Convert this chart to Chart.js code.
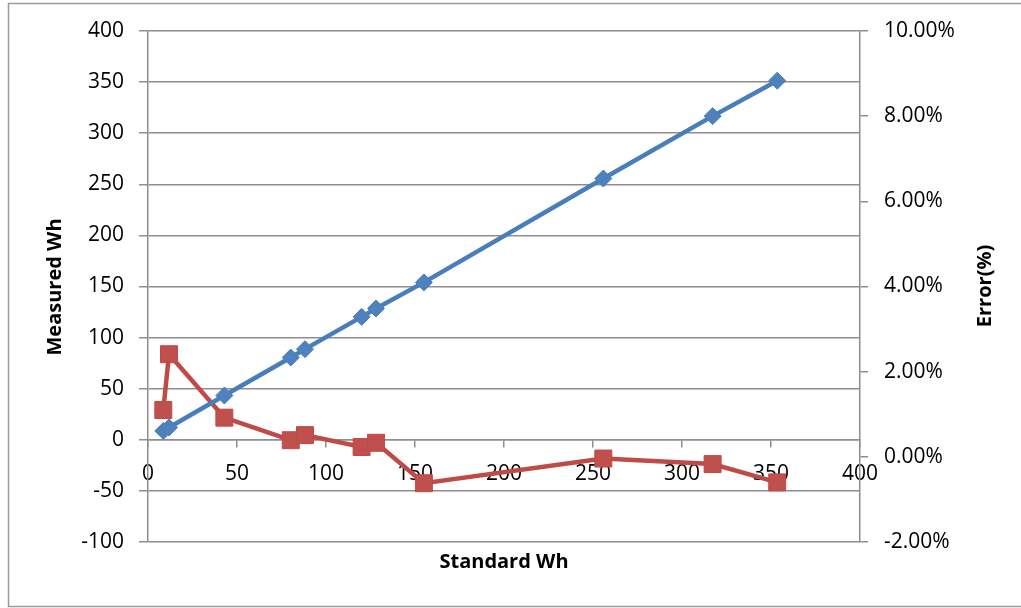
<!DOCTYPE html>
<html>
<head>
<meta charset="utf-8">
<title>Measured vs Standard Wh</title>
<script src="https://cdn.jsdelivr.net/npm/chart.js@4.4.2/dist/chart.umd.min.js"></script>
<style>
  html, body { margin: 0; padding: 0; background: #fff; }
  #wrap { position: relative; width: 1021px; height: 608px; }
</style>
</head>
<body>
<div id="wrap"><canvas id="chart" width="1021" height="608"></canvas></div>
<script>
// ---------- DATA ----------
const standardWh = [8.6, 11.8, 42.9, 80.2, 88.2, 120.0, 128.1, 155.0, 255.8, 317.2, 353.5];
const measuredWh = [8.7, 12.1, 43.3, 80.5, 88.7, 120.3, 128.5, 154.0, 255.7, 316.7, 351.4];
const errorPct   = [1.10, 2.41, 0.92, 0.39, 0.51, 0.23, 0.33, -0.62, -0.04, -0.17, -0.60];

const xTicks  = [0, 50, 100, 150, 200, 250, 300, 350, 400];
const yTicks  = [-100, -50, 0, 50, 100, 150, 200, 250, 300, 350, 400];
const y2Ticks = [-2, 0, 2, 4, 6, 8, 10];

const xTitle  = "Standard Wh";
const yTitle  = "Measured Wh";
const y2Title = "Error(%)";

// ---------- STYLE ----------
const GRID = "#8e8e8e";
const FONT = "'Open Sans', 'Liberation Sans', sans-serif";
const tickFont = { family: FONT, size: 21 };

Chart.defaults.font.family = FONT;
Chart.defaults.color = "#000";

// axis titles + outer frame, drawn by hand so the right title reads bottom-to-top
const titlesPlugin = {
  id: "titles",
  beforeDraw(chart) {
    const ctx = chart.ctx;
    ctx.save();
    ctx.strokeStyle = "#9a9a9a";
    ctx.lineWidth = 1.5;
    ctx.strokeRect(8.5, 3.5, 1040, 603);
    ctx.restore();
  },
  afterDraw(chart) {
    const ctx = chart.ctx;
    ctx.save();
    ctx.fillStyle = "#000";
    ctx.font = "bold 20px " + FONT;
    ctx.textAlign = "center";
    ctx.textBaseline = "middle";

    ctx.fillText(xTitle, 504, 562);

    ctx.translate(55, 287);
    ctx.rotate(-Math.PI / 2);
    ctx.fillText(yTitle, 0, 0);
    ctx.restore();

    ctx.save();
    ctx.fillStyle = "#000";
    ctx.font = "bold 20px " + FONT;
    ctx.textAlign = "center";
    ctx.textBaseline = "middle";
    ctx.translate(985, 286);
    ctx.rotate(-Math.PI / 2);
    ctx.fillText(y2Title, 0, 0);
    ctx.restore();
  }
};

const measuredPts = standardWh.map((x, i) => ({ x, y: measuredWh[i] }));
const errorPts    = standardWh.map((x, i) => ({ x, y: errorPct[i] }));

new Chart(document.getElementById("chart"), {
  type: "line",
  data: {
    datasets: [
      {
        label: yTitle,
        data: measuredPts,
        yAxisID: "y",
        borderColor: "#4A7EBB",
        backgroundColor: "#4F81BD",
        borderWidth: 4.5,
        tension: 0,
        pointStyle: "rectRot",
        pointRadius: 8.5,
        pointBorderWidth: 1,
        pointBorderColor: "#4A7EBB",
        pointBackgroundColor: "#4F81BD"
      },
      {
        label: y2Title,
        data: errorPts,
        yAxisID: "y2",
        borderColor: "#BE4B48",
        backgroundColor: "#C0504D",
        borderWidth: 4.5,
        tension: 0,
        pointStyle: "rect",
        pointRadius: 12,
        pointBorderWidth: 1,
        pointBorderColor: "#BE4B48",
        pointBackgroundColor: "#C0504D"
      }
    ]
  },
  options: {
    responsive: false,
    animation: false,
    layout: { padding: { left: 0, right: 0, top: 31, bottom: 66 } },
    plugins: { legend: { display: false }, tooltip: { enabled: false } },
    scales: {
      x: {
        type: "linear",
        position: { y: 0 },
        min: 0, max: 400,
        afterBuildTicks: s => { s.ticks = xTicks.map(v => ({ value: v })); },
        grid: { drawOnChartArea: false, drawTicks: true, tickLength: 7, color: GRID, lineWidth: 1.5 },
        border: { display: true, color: GRID, width: 1.5 },
        ticks: { font: tickFont, color: "#000", padding: 15, maxRotation: 0, autoSkip: false }
      },
      y: {
        type: "linear",
        position: "left",
        min: -100, max: 400,
        afterBuildTicks: s => { s.ticks = yTicks.map(v => ({ value: v })); },
        afterFit: s => { s.width = 148; },
        grid: { color: GRID, lineWidth: 1.5, tickLength: 9 },
        border: { display: true, color: GRID, width: 1.5 },
        ticks: { font: tickFont, color: "#000", padding: 15 }
      },
      y2: {
        type: "linear",
        position: "right",
        min: -2, max: 10,
        afterBuildTicks: s => { s.ticks = y2Ticks.map(v => ({ value: v })); },
        afterFit: s => { s.width = 161; },
        grid: { drawOnChartArea: false, color: GRID, lineWidth: 1.5, tickLength: 8 },
        border: { display: true, color: GRID, width: 1.5 },
        ticks: { font: tickFont, color: "#000", padding: 16, callback: v => v.toFixed(2) + "%" }
      }
    }
  },
  plugins: [titlesPlugin]
});
</script>
</body>
</html>
